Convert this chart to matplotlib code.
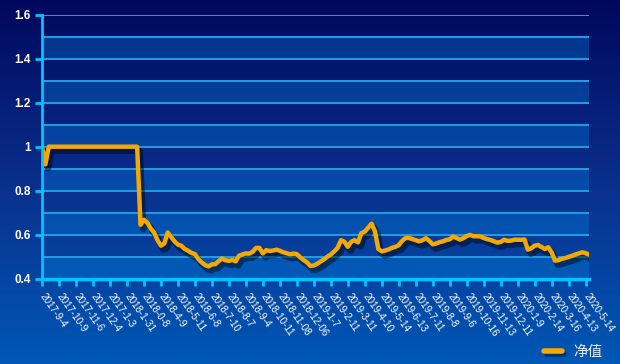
import numpy as np
import matplotlib
matplotlib.use("Agg")
import matplotlib.pyplot as plt
import matplotlib.patheffects as pe
from matplotlib.lines import Line2D
from matplotlib.colors import LinearSegmentedColormap

plt.rcParams['font.family'] = ['Liberation Sans', 'Noto Sans CJK SC', 'DejaVu Sans']

# ---- data ----
tick_labels = ["2017-9-4", "2017-10-9", "2017-11-6", "2017-12-4", "2017-1-3", "2018-1-31",
               "2018-0-8", "2018-4-9", "2018-5-11", "2018-6-8", "2018-7-10", "2018-8-7",
               "2018-9-4", "2018-10-11", "2018-11-08", "2018-12-06", "2019-1-7", "2019-2-11",
               "2019-3-11", "2019-4-10", "2019-5-14", "2019-6-13", "2019-7-11", "2019-8-8",
               "2019-9-6", "2019-10-16", "2019-11-13", "2019-12-11", "2020-1-9", "2020-2-14",
               "2020-3-16", "2020-4-13", "2020-5-14"]
points_per_label = 5

nav_values = [
    1.0, 0.92, 1.0, 1.0, 1.0, 1.0, 1.0, 1.0, 1.0, 1.0,
    1.0, 1.0, 1.0, 1.0, 1.0, 1.0, 1.0, 1.0, 1.0, 1.0,
    1.0, 1.0, 1.0, 1.0, 1.0, 1.0, 1.0, 1.0, 1.0, 0.645,
    0.668, 0.655, 0.628, 0.61, 0.575, 0.55, 0.56, 0.61, 0.59, 0.57,
    0.555, 0.55, 0.535, 0.527, 0.517, 0.512, 0.49, 0.474, 0.462, 0.456,
    0.465, 0.466, 0.48, 0.492, 0.484, 0.481, 0.485, 0.479, 0.505, 0.51,
    0.515, 0.514, 0.522, 0.54, 0.54, 0.515, 0.53, 0.526, 0.528, 0.532,
    0.527, 0.52, 0.516, 0.511, 0.514, 0.512, 0.497, 0.485, 0.474, 0.458,
    0.46, 0.468, 0.478, 0.488, 0.5, 0.51, 0.524, 0.54, 0.575, 0.568,
    0.545, 0.568, 0.575, 0.565, 0.607, 0.614, 0.632, 0.65, 0.615, 0.535,
    0.524, 0.528, 0.533, 0.54, 0.545, 0.552, 0.572, 0.585, 0.585, 0.58,
    0.575, 0.57, 0.575, 0.584, 0.572, 0.556, 0.56, 0.566, 0.57, 0.576,
    0.579, 0.592, 0.585, 0.578, 0.584, 0.594, 0.599, 0.593, 0.593, 0.592,
    0.585, 0.58, 0.576, 0.57, 0.564, 0.567, 0.577, 0.572, 0.573, 0.577,
    0.577, 0.577, 0.578, 0.532, 0.538, 0.55, 0.553, 0.544, 0.535, 0.543,
    0.52, 0.482, 0.484, 0.49, 0.494, 0.499, 0.504, 0.51, 0.515, 0.52,
    0.516, 0.51,
]
series_name = "净值"
y_ticks = [0.4, 0.6, 0.8, 1.0, 1.2, 1.4, 1.6]
y_tick_labels = ["0.4", "0.6", "0.8", "1", "1.2", "1.4", "1.6"]

# ---- figure ----
W, H = 620, 364
fig = plt.figure(figsize=(W / 100, H / 100), dpi=100)

# background gradient
bg_ax = fig.add_axes([0, 0, 1, 1], zorder=-10)
cmap = LinearSegmentedColormap.from_list("bg", ["#00085c", "#0a2f8c", "#0058b6"])
grad = np.linspace(0, 1, 256).reshape(-1, 1)
bg_ax.imshow(grad, aspect="auto", cmap=cmap, extent=[0, 1, 0, 1], origin="upper")
bg_ax.set_axis_off()

left, right = 42 / W, 589 / W
top, bottom = 1 - 14.7 / H, 1 - 278.7 / H
ax = fig.add_axes([left, bottom, right - left, top - bottom])
ax.patch.set_alpha(0)

x = np.arange(len(nav_values))
ax.set_xlim(0, len(nav_values) - 1)
ax.set_ylim(0.4, 1.6)

# split area bands
band_edges = np.round(np.arange(0.4, 1.6001, 0.1), 2)
for i in range(len(band_edges) - 1):
    if i % 2 == 0:
        ax.axhspan(band_edges[i], band_edges[i + 1], color=(0.0, 0.53, 0.9), alpha=0.32,
                   lw=0, zorder=0)
for v in band_edges[1:]:
    ax.axhline(v, color="#1e9fe0", lw=1.4, zorder=1)

# line
ax.plot(x, nav_values, color="#f5a800", lw=3.2, solid_joinstyle="round", zorder=5,
        path_effects=[pe.SimpleLineShadow(offset=(2, -3), shadow_color="black", alpha=0.45,
                                          linewidth=4.5),
                      pe.Normal()])

# spines
for s in ["top", "right"]:
    ax.spines[s].set_visible(False)
ax.spines["left"].set_color("#00c4ff")
ax.spines["left"].set_linewidth(2)
ax.spines["bottom"].set_color("#00c4ff")
ax.spines["bottom"].set_linewidth(2.5)
ax.spines["left"].set_zorder(6)
ax.spines["bottom"].set_zorder(6)

# ticks
ax.set_yticks(y_ticks)
ax.set_yticklabels(y_tick_labels, fontsize=8.5, fontweight="bold", color="white")
xt = np.arange(0, len(nav_values), points_per_label)[:len(tick_labels)]
ax.set_xticks(xt)
ax.set_xticklabels(tick_labels, fontsize=7.1, color="white", rotation=-55,
                   ha="left", va="center", rotation_mode="anchor")
ax.tick_params(axis="x", colors="#00c4ff", length=5, width=2, pad=6, labelcolor="white")
ax.tick_params(axis="y", colors="#00c4ff", length=5, width=2, pad=3, labelcolor="white")

# legend
handle = Line2D([0], [0], color="#f5a800", lw=4, solid_capstyle="round",
                path_effects=[pe.SimpleLineShadow(offset=(1.5, -2), alpha=0.4), pe.Normal()])
fig.legend([handle], [series_name], loc="center right",
           bbox_to_anchor=(616 / W, 1 - 352 / H), frameon=False, fontsize=10.5,
           labelcolor="#e8eef8", handlelength=1.2, handletextpad=0.8)

fig.savefig("out.png", dpi=100)
